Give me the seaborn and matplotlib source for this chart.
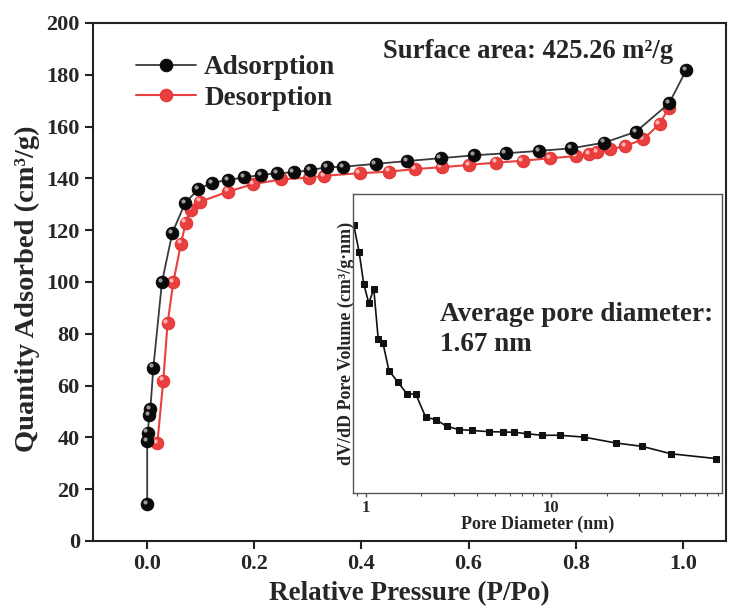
import numpy as np
import pandas as pd
import seaborn as sns
import matplotlib.pyplot as plt
from matplotlib.transforms import offset_copy

# Adsorption branch (P/Po, cm3/g)
ads_p = [0.001, 0.001, 0.002, 0.005, 0.007, 0.0125, 0.0286, 0.048, 0.0715, 0.096,
         0.122, 0.152, 0.182, 0.213, 0.243, 0.274, 0.305, 0.336, 0.366, 0.427,
         0.486, 0.548, 0.610, 0.669, 0.731, 0.791, 0.853, 0.912, 0.974, 1.006]
ads_q = [14.3, 38.6, 41.8, 48.6, 51.0, 66.9, 100.0, 119.0, 130.4, 135.8,
         138.3, 139.4, 140.4, 141.3, 142.0, 142.3, 143.2, 144.3, 144.5, 145.6,
         146.7, 147.8, 148.9, 149.7, 150.6, 151.6, 153.8, 158.0, 169.0, 181.9]

# Desorption branch
des_p = [0.020, 0.031, 0.039, 0.0497, 0.064, 0.0728, 0.0825, 0.100, 0.152, 0.199,
         0.251, 0.303, 0.331, 0.397, 0.452, 0.500, 0.550, 0.601, 0.652, 0.701,
         0.752, 0.800, 0.825, 0.839, 0.864, 0.892, 0.926, 0.956, 0.973]
des_q = [37.8, 61.9, 84.0, 99.9, 114.8, 122.9, 127.9, 131.0, 134.9, 137.8,
         139.6, 140.3, 141.0, 142.0, 142.6, 143.6, 144.3, 145.2, 146.1, 146.8,
         147.8, 148.6, 149.4, 150.1, 151.2, 152.5, 155.1, 161.0, 167.1]

# Pore size distribution (inset), nm vs dV/dD
pore_d = [0.861, 0.920, 0.975, 1.038, 1.105, 1.167, 1.237, 1.334, 1.492, 1.670,
          1.862, 2.110, 2.401, 2.733, 3.19, 3.77, 4.62, 5.53, 6.35, 7.47,
          8.94, 11.15, 15.05, 22.5, 31.1, 44.7, 78.2]
pore_v = [0.0896, 0.0807, 0.0699, 0.0635, 0.0682, 0.0516, 0.0503, 0.0409, 0.0371, 0.0331,
          0.0331, 0.0253, 0.0245, 0.0223, 0.0212, 0.0209, 0.0205, 0.0204, 0.0203, 0.0198,
          0.0193, 0.0193, 0.0187, 0.0167, 0.0156, 0.0131, 0.0115]

sns.set_theme(style="white")
plt.rcParams['font.family'] = ['Liberation Serif', 'DejaVu Serif']
plt.rcParams['font.weight'] = 'bold'
plt.rcParams['axes.labelweight'] = 'bold'

fig = plt.figure(figsize=(7.31, 6.13), dpi=100)
ax = fig.add_axes([0.1272, 0.1175, 0.866, 0.845])

ads_df = pd.DataFrame({'p': ads_p, 'q': ads_q})
des_df = pd.DataFrame({'p': des_p, 'q': des_q})

sns.lineplot(data=ads_df, x='p', y='q', sort=False, estimator=None, ax=ax, color='#3a3a3a', lw=1.3,
             marker='o', markersize=9, markerfacecolor='#0a0a0a', markeredgecolor='#0a0a0a',
             label='Adsorption', zorder=3)
sns.lineplot(data=des_df, x='p', y='q', sort=False, estimator=None, ax=ax, color='#e8403f', lw=1.5,
             marker='o', markersize=9, markerfacecolor='#ea3f3f', markeredgecolor='#e23535',
             label='Desorption', zorder=2)

# little highlight to give the spheres a glossy look
hl = offset_copy(ax.transData, fig=fig, x=-1.6, y=1.6, units='points')
ax.plot(ads_p, ads_q, ls='none', marker='o', ms=3, color='#9a9a9a', mec='none', transform=hl, zorder=4)
ax.plot(des_p, des_q, ls='none', marker='o', ms=3, color='#ffb3b3', mec='none', transform=hl, zorder=2.5)

ax.set_xlim(-0.1, 1.08)
ax.set_ylim(0, 200)
ax.set_xticks(np.arange(0, 1.01, 0.2))
ax.set_xticklabels([f"{v:.1f}" for v in np.arange(0, 1.01, 0.2)])
ax.set_yticks(np.arange(0, 201, 20))
ax.tick_params(axis='both', which='major', direction='out', length=6, width=1.5,
               labelsize=16, bottom=True, left=True, color='#222')
for lab in ax.get_xticklabels() + ax.get_yticklabels():
    lab.set_fontweight('bold')
for sp in ax.spines.values():
    sp.set_linewidth(1.5)
    sp.set_color('#222')

ax.set_xlabel("Relative Pressure (P/Po)", fontsize=19.5, fontweight='bold', labelpad=5)
ax.set_ylabel("Quantity Adsorbed (cm\u00b3/g)", fontsize=20.5, fontweight='bold')
ax.yaxis.set_label_coords(-0.083, 0.487)

leg = ax.legend(loc='upper left', bbox_to_anchor=(0.03, 0.985), frameon=False,
                prop={'family': 'Liberation Serif', 'weight': 'bold', 'size': 19.5},
                handlelength=2.2, handletextpad=0.3, labelspacing=0.2)

ax.text(0.916, 0.944, "Surface area: 425.26 m\u00b2/g", transform=ax.transAxes,
        ha='right', va='center', fontsize=19.2, fontweight='bold')

# inset: pore size distribution
ins = fig.add_axes([0.4825, 0.1958, 0.505, 0.4878])
pore_df = pd.DataFrame({'d': pore_d, 'v': pore_v})
sns.lineplot(data=pore_df, x='d', y='v', sort=False, estimator=None, ax=ins, color='#111', lw=1.2,
             marker='s', markersize=5, markerfacecolor='#111', markeredgecolor='#111')
ins.set_xscale('log')
ins.set_xlim(0.85, 84)
ins.set_ylim(0, 0.1)
ins.set_yticks([])
ins.set_xticks([1, 10])
ins.set_xticklabels(['1', '10'])
ins.tick_params(axis='x', which='major', direction='out', length=3, width=1, labelsize=12,
                pad=2, bottom=True, color='#555')
ins.tick_params(axis='x', which='minor', direction='out', length=2, width=0.8, bottom=True, color='#555')
for lab in ins.get_xticklabels():
    lab.set_fontweight('bold')
for sp in ins.spines.values():
    sp.set_linewidth(1.0)
    sp.set_color('#555')
ins.set_xlabel("Pore Diameter (nm)", fontsize=13, fontweight='bold', labelpad=0)
ins.set_ylabel("dV/dD Pore Volume (cm\u00b3/g\u00b7nm)", fontsize=13, fontweight='bold', labelpad=-2)
ins.text(0.237, 0.64, "Average pore diameter:\n1.67 nm", transform=ins.transAxes,
         ha='left', va='top', fontsize=19.5, fontweight='bold', linespacing=1.3)

plt.savefig("out.png", dpi=100)
